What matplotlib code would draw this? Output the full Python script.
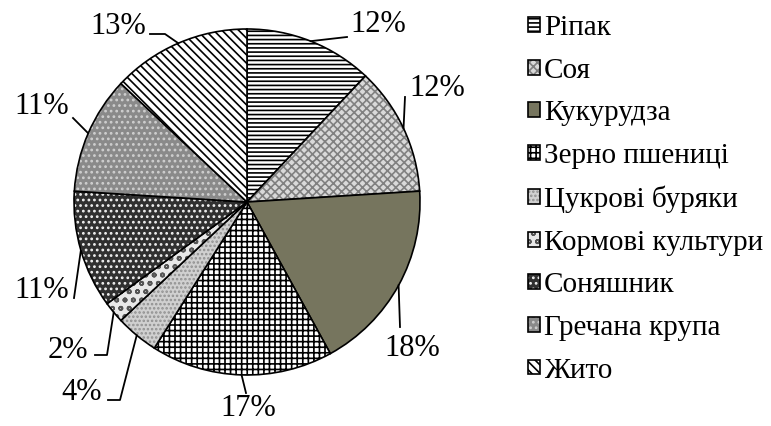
import numpy as np
import matplotlib.pyplot as plt

plt.rcParams['font.family'] = ['Liberation Serif', 'DejaVu Serif']
plt.rcParams['hatch.linewidth'] = 1.2

crops = ['Ріпак', 'Соя', 'Кукурудза', 'Зерно пшениці', 'Цукрові буряки',
         'Кормові культури', 'Соняшник', 'Гречана крупа', 'Жито']
shares = [12, 12, 18, 17, 4, 2, 11, 11, 13]

# look of each wedge: face colour, hatch
faces = ['white', '#d9d9d9', '#76755e', 'white', '#d0d0d0',
         '#e8e8e8', '#303030', '#8a8a8a', 'white']
hatches = ['----', 'xxxx', '', '+++', '....', 'oo', '...', '...', '\\\\\\\\']
hatch_cols = ['black', '#808080', 'black', 'black', '#909090',
              '#555555', '#f0f0f0', '#cfcfcf', 'black']

# label text positions and leader-line bends, in pixels
W, H = 771, 426
cx, cy, R = 247, 202, 173
text_px = [(378, 24), (437, 88), (412, 348), (248, 409), (82, 392),
           (68, 350), (42, 290), (42, 106), (118, 26)]
bend_px = [[(347, 37)], [(405, 97)], [(400, 327)], [(246, 393)],
           [(120, 400), (108, 400)], [(107, 355), (95, 355)],
           [(74, 298)], [(73, 118)], [(165, 34), (150, 34)]]

def to_data(p):
    return (p[0] - cx) / R, (cy - p[1]) / R

fig = plt.figure(figsize=(W / 100, H / 100), dpi=100)
ax = fig.add_axes([(cx - R) / W, (H - cy - R) / H, 2 * R / W, 2 * R / H])

wedges, _ = ax.pie(shares, startangle=90, counterclock=False, radius=1,
                   colors=faces, wedgeprops=dict(edgecolor='black', linewidth=1.2))
for w, h, hc in zip(wedges, hatches, hatch_cols):
    w.set_hatch(h)
    w._hatch_color = plt.matplotlib.colors.to_rgba(hc)

for i, w in enumerate(wedges):
    ang = np.deg2rad((w.theta1 + w.theta2) / 2)
    pts = [(np.cos(ang), np.sin(ang))] + [to_data(p) for p in bend_px[i]]
    xs, ys = zip(*pts)
    ax.plot(xs, ys, color='black', lw=1.3, clip_on=False)
    tx, ty = to_data(text_px[i])
    ax.text(tx, ty, f'{shares[i]}%', fontsize=22, ha='center', va='center')

ax.set_xlim(-1, 1)
ax.set_ylim(-1, 1)
ax.set_aspect('equal')
ax.axis('off')

fig.legend(wedges, crops, loc='upper left', bbox_to_anchor=(528 / W, 1 - 15 / H),
           frameon=False, fontsize=21, handlelength=0.4, handleheight=0.4,
           handletextpad=0.15, labelspacing=0.57, borderpad=0, borderaxespad=0)

fig.savefig('out.png', dpi=100)
